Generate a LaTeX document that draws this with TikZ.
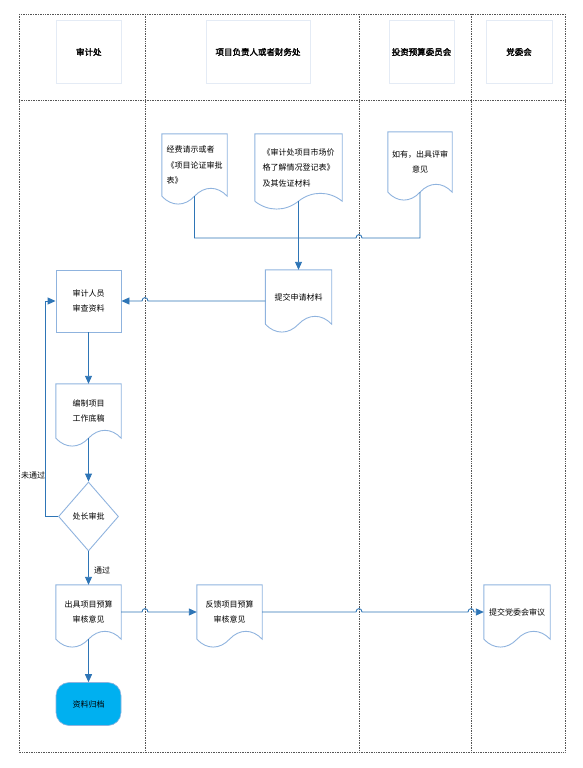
\documentclass[tikz,border=0pt]{standalone}
\usepackage{fontspec}
\newfontfamily\cjk{Noto Sans CJK SC}
\newfontfamily\cjkbold[FakeBold=2]{Noto Sans CJK SC}
\usetikzlibrary{arrows.meta,calc,shapes.geometric}
\definecolor{conn}{HTML}{2E75B6}
\definecolor{shp}{HTML}{8FB3DE}
\definecolor{hdr}{HTML}{E4EBF5}
\definecolor{term}{HTML}{00B0F0}
\definecolor{frm}{HTML}{555555}
\newcommand{\docwave}[1]{%
  \draw[shapeline] (#1.south west) -- (#1.north west) -- (#1.north east) -- (#1.south east)
    .. controls ($(#1.south west)!0.85!(#1.south east)+(0,-10.5)$) and ($(#1.south west)!0.65!(#1.south east)+(0,-10.5)$) .. (#1.south)
    .. controls ($(#1.south west)!0.35!(#1.south east)+(0,10.5)$) and ($(#1.south west)!0.15!(#1.south east)+(0,10.5)$) .. (#1.south west);}
\tikzset{
  shapeline/.style={draw=shp, line width=0.9pt},
  txt/.style={font=\cjk\fontsize{8}{15.5}\selectfont},
  docbody/.style={rectangle, inner sep=0pt, txt, align=center},
  conline/.style={draw=conn, line width=0.9pt},
  arr/.style={conline, -{Triangle[length=8pt,width=7pt]}},
  lane/.style={draw=frm, densely dotted, line width=0.7pt},
  hdrbox/.style={rectangle, draw=hdr, line width=0.8pt, minimum height=63pt, inner sep=0pt, font=\cjkbold\fontsize{8.5}{10}\selectfont},
}
\begin{document}
\begin{tikzpicture}[x=1pt,y=-1pt]
\useasboundingbox (0,0) rectangle (583,768);
% lanes
\coordinate (L1) at (145,100);
\coordinate (L2) at (359,100);
\coordinate (L3) at (471,100);
\draw[lane] (19,14) rectangle (565,752);
\draw[lane] (19,100) -- (565,100);
\draw[lane] (145,14) -- (145,752);
\draw[lane] (359,14) -- (359,752);
\draw[lane] (471,14) -- (471,752);
% headers
\node[hdrbox, minimum width=65pt] (h1) at (88.8,52) {审计处};
\node[hdrbox, minimum width=104pt] (h2) at (258,52) {项目负责人或者财务处};
\node[hdrbox, minimum width=65pt] (h3) at (421.5,52) {投资预算委员会};
\node[hdrbox, minimum width=66pt] (h4) at (519,52) {党委会};
% documents
\node[docbody, align=left, minimum width=65pt, minimum height=62pt] (doc1) at (194.5,165) {经费请示或者\\《项目论证审批\\表》};
\docwave{doc1}
\node[docbody, align=left, minimum width=87pt, minimum height=67pt] (doc2) at (298.5,167.5) {《审计处项目市场价\\格了解情况登记表》\\及其佐证材料};
\docwave{doc2}
\node[docbody, minimum width=64pt, minimum height=60pt] (doc3) at (420,162) {如有，出具评审\\意见};
\docwave{doc3}
\node[docbody, minimum width=66pt, minimum height=54pt] (sub) at (298.5,297) {提交申请材料};
\docwave{sub}
\node[docbody, draw=shp, line width=0.9pt, minimum width=65pt, minimum height=62pt] (rev) at (88.5,301) {审计人员\\审查资料};
\node[docbody, minimum width=65pt, minimum height=54pt] (prep) at (88.5,411) {编制项目\\工作底稿};
\docwave{prep}
\node[diamond, draw=shp, line width=0.9pt, inner sep=0pt, minimum width=60pt, minimum height=69pt, txt] (dia) at (88.5,516.5) {处长审批};
\node[docbody, minimum width=65pt, minimum height=54pt] (out) at (88.5,612) {出具项目预算\\审核意见};
\docwave{out}
\node[docbody, minimum width=65pt, minimum height=54pt] (fb) at (229.5,612) {反馈项目预算\\审核意见};
\docwave{fb}
\node[docbody, minimum width=66pt, minimum height=54pt] (party) at (517,612) {提交党委会审议};
\docwave{party}
\node[rectangle, rounded corners=13pt, fill=term, draw=shp, line width=0.6pt, minimum width=65pt, minimum height=43pt, txt] (term) at (88.5,704) {资料归档};
% labels
\node[txt] (lno) at (33,475) {未通过};
\node[txt] (lyes) at (102,570) {通过};
% connectors
\coordinate (mrg) at (298.5,238);
\draw[conline] (doc1.south) |- (mrg) -- ($(mrg -| L2)+(-3,0)$)
  .. controls ($(mrg -| L2)+(-3,-4.5)$) and ($(mrg -| L2)+(3,-4.5)$) .. ($(mrg -| L2)+(3,0)$) -| (doc3.south);
\draw[arr] (doc2.south) -- (sub.north);
\draw[arr] (sub.west |- rev.east) -- ($(rev.east -| L1)+(3,0)$)
  .. controls ($(rev.east -| L1)+(3,-4.5)$) and ($(rev.east -| L1)+(-3,-4.5)$) .. ($(rev.east -| L1)+(-3,0)$) -- (rev.east);
\draw[arr] (rev.south) -- (prep.north);
\draw[arr] (prep.south) -- (dia.north);
\draw[arr] (dia.west) -- ++(-13,0) |- (rev.west);
\draw[arr] (dia.south) -- (out.north);
\draw[arr] (out.south) -- (term.north);
\draw[arr] (out.east) -- ($(out.east -| L1)+(-3,0)$)
  .. controls ($(out.east -| L1)+(-3,-4.5)$) and ($(out.east -| L1)+(3,-4.5)$) .. ($(out.east -| L1)+(3,0)$) -- (fb.west);
\draw[arr] (fb.east) -- ($(fb.east -| L2)+(-3,0)$)
  .. controls ($(fb.east -| L2)+(-3,-4.5)$) and ($(fb.east -| L2)+(3,-4.5)$) .. ($(fb.east -| L2)+(3,0)$)
  -- ($(fb.east -| L3)+(-3,0)$)
  .. controls ($(fb.east -| L3)+(-3,-4.5)$) and ($(fb.east -| L3)+(3,-4.5)$) .. ($(fb.east -| L3)+(3,0)$) -- (party.west);
\end{tikzpicture}
\end{document}
